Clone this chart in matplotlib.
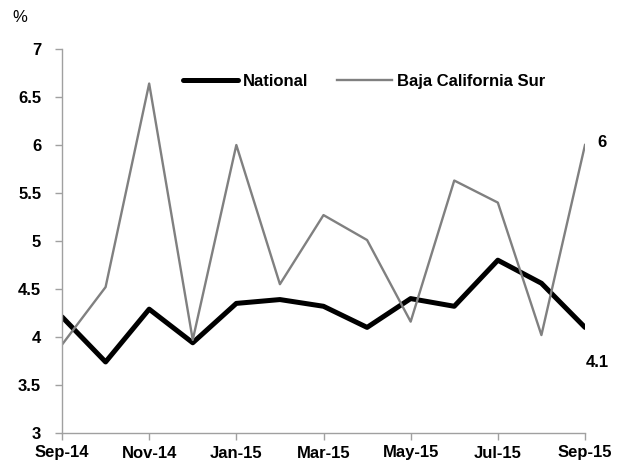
import matplotlib
matplotlib.use("Agg")
import matplotlib.pyplot as plt
import numpy as np

# monthly data, Sep-14 .. Sep-15
months = ["Sep-14", "Oct-14", "Nov-14", "Dec-14", "Jan-15", "Feb-15", "Mar-15",
          "Apr-15", "May-15", "Jun-15", "Jul-15", "Aug-15", "Sep-15"]
national = [4.21, 3.74, 4.29, 3.94, 4.35, 4.39, 4.32, 4.10, 4.40, 4.32, 4.80, 4.56, 4.10]
bcs = [3.92, 4.52, 6.64, 3.97, 6.00, 4.55, 5.27, 5.01, 4.16, 5.63, 5.40, 4.02, 6.00]
yticks = [3, 3.5, 4, 4.5, 5, 5.5, 6, 6.5, 7]

plt.rcParams['font.family'] = ['Liberation Sans Narrow', 'Liberation Sans', 'DejaVu Sans']

fig = plt.figure(figsize=(6.28, 4.74), dpi=100)
ax = fig.add_axes([62/628, 1 - 433/474, 523/628, 384/474])

x = np.arange(len(months))
ax.plot(x, national, color="black", lw=3.6, label="National", solid_capstyle="round")
ax.plot(x, bcs, color="#808080", lw=1.7, label="Baja California Sur")

ax.set_xlim(0, len(months) - 1)
ax.set_ylim(3, 7)
ax.set_yticks(yticks)
ax.set_yticklabels([f"{v:g}" for v in yticks], fontsize=12, fontweight="bold")
ax.set_xticks(x[::2])
ax.set_xticklabels(months[::2], fontsize=12, fontweight="bold")
ax.tick_params(axis="both", direction="out", length=5, color="#a0a0a0", width=1)
ax.tick_params(axis="y", pad=10)
ax.tick_params(axis="x", pad=4)

for s in ["top", "right"]:
    ax.spines[s].set_visible(False)
for s in ["left", "bottom"]:
    ax.spines[s].set_color("#a0a0a0")
    ax.spines[s].set_linewidth(1)

# end labels
ax.annotate(f"{bcs[-1]:g}", (x[-1], bcs[-1]), xytext=(9, 2), textcoords="offset points",
            fontsize=12, fontweight="bold", ha="left", va="center", annotation_clip=False)
ax.annotate(f"{national[-1]:g}", (x[-1], national[-1]), xytext=(9, -25), textcoords="offset points",
            fontsize=12, fontweight="bold", ha="center", va="center", annotation_clip=False)

ax.legend(loc="upper center", bbox_to_anchor=(0.578, 0.975), ncol=2, frameon=False,
          prop={"size": 12, "weight": "bold"}, handlelength=3.3, handletextpad=0.3,
          columnspacing=1.7)

fig.text(12/628, 1 - 17/474, "%", fontsize=12, ha="left", va="center")

fig.savefig("out.png", dpi=100)
